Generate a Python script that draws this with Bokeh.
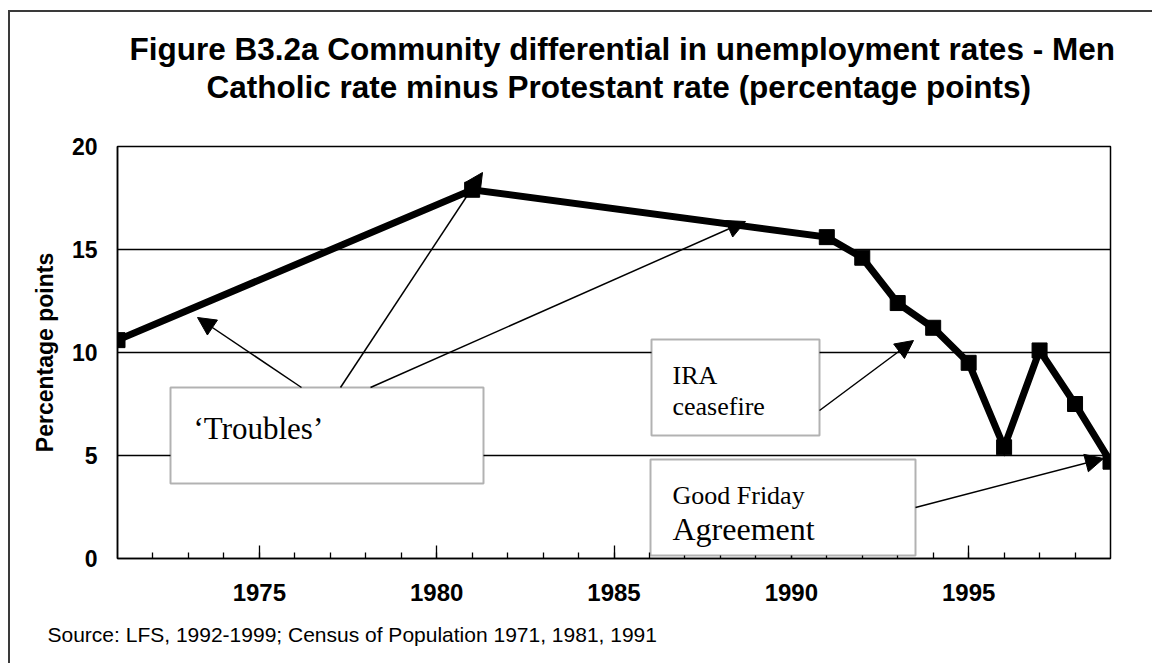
from bokeh.plotting import figure
from bokeh.models import Range1d, FixedTicker, Label, BoxAnnotation, Arrow, NormalHead, Title
from bokeh.embed import file_html
from bokeh.resources import INLINE

# ---- data ----
years = [1971, 1981, 1991, 1992, 1993, 1994, 1995, 1996, 1997, 1998, 1999]
differential = [10.6, 17.9, 15.6, 14.6, 12.4, 11.2, 9.5, 5.4, 10.1, 7.5, 4.7]
x_major_ticks = [1975, 1980, 1985, 1990, 1995]
x_minor_ticks = list(range(1972, 1999))
y_ticks = [0, 5, 10, 15, 20]
title_line1 = "Figure B3.2a Community differential in unemployment rates - Men"
title_line2 = "Catholic rate minus Protestant rate (percentage points)"
y_label = "Percentage points"
source_text = "Source: LFS, 1992-1999; Census of Population 1971, 1981, 1991"

# ---- layout (page pixels) ----
OX, OY = 10, 12           # canvas origin on page (after margin + border)
W, H = 1144, 653
FL, FR, FT, FB = 117, 1110, 146, 558  # frame edges on page
XPX = (FR - FL) / (years[-1] - years[0])
YPX = (FB - FT) / 20.0


def X(px):
    return years[0] + (px - FL) / XPX


def Y(py):
    return (FB - py) / YPX


p = figure(width=W, height=H, output_backend="svg", toolbar_location=None,
           x_range=Range1d(years[0], years[-1]), y_range=Range1d(0, 20),
           min_border_left=FL - OX, min_border_right=OX + W - FR,
           min_border_top=FT - OY, min_border_bottom=OY + H - FB)
p.styles = {"margin-left": "8px", "margin-top": "10px",
            "border-left": "2px solid #3a3a3a", "border-top": "2px solid #3a3a3a"}
p.background_fill_color = "white"
p.border_fill_color = "white"
p.outline_line_color = "black"
p.outline_line_width = 1.5

p.xgrid.visible = False
p.ygrid.ticker = FixedTicker(ticks=[5, 10, 15])
p.ygrid.grid_line_color = "black"
p.ygrid.grid_line_width = 1.3

xa = p.xaxis[0]
xa.ticker = FixedTicker(ticks=x_major_ticks, minor_ticks=x_minor_ticks)
xa.major_tick_in = 13
xa.major_tick_out = 0
xa.minor_tick_in = 6
xa.minor_tick_out = 0
xa.major_tick_line_color = "black"
xa.minor_tick_line_color = "black"
xa.major_tick_line_width = 1.3
xa.minor_tick_line_width = 1.3
xa.axis_line_color = "black"
xa.axis_line_width = 1.5
xa.major_label_text_font = "Liberation Sans"
xa.major_label_text_font_style = "bold"
xa.major_label_text_font_size = "24px"
xa.major_label_text_color = "black"
xa.major_label_standoff = 25

ya = p.yaxis[0]
ya.ticker = FixedTicker(ticks=y_ticks)
ya.major_tick_in = 0
ya.major_tick_out = 0
ya.minor_tick_in = 0
ya.minor_tick_out = 0
ya.axis_line_color = "black"
ya.axis_line_width = 1.5
ya.major_label_text_font = "Liberation Sans"
ya.major_label_text_font_style = "bold"
ya.major_label_text_font_size = "23px"
ya.major_label_text_color = "black"
ya.major_label_standoff = 20
ya.axis_label = y_label
ya.axis_label_text_font = "Liberation Sans"
ya.axis_label_text_font_style = "bold"
ya.axis_label_text_font_size = "23px"
ya.axis_label_text_color = "black"
ya.axis_label_standoff = 11

# data line and markers
p.line(years, differential, line_width=7, line_color="black", line_join="miter")
p.scatter(years, differential, marker="square", size=15, fill_color="black", line_color="black")


# annotation boxes
def box(l, r, t, b):
    p.add_layout(BoxAnnotation(left=X(l), right=X(r), top=Y(t), bottom=Y(b),
                               fill_color="white", fill_alpha=1,
                               line_color="black", line_width=2))

box(170, 483, 387, 483)   # Troubles
box(651, 819, 339, 435)   # IRA ceasefire
box(650, 915, 459, 555)   # Good Friday Agreement


def lab(px, py, txt, size, font="Liberation Serif", style="normal", align="left"):
    p.add_layout(Label(x=X(px), y=Y(py), text=txt, text_font=font,
                       text_font_size=size, text_font_style=style,
                       text_color="black", text_align=align,
                       text_baseline="alphabetic"))

lab(193, 428, "\u2018Troubles\u2019", "31px")
lab(672, 375, "IRA", "26px")
lab(672, 406, "ceasefire", "26px")
lab(672, 495, "Good Friday", "26px")
lab(672, 528, "Agreement", "32px")


# arrows
def arrow(x0, y0, x1, y1):
    p.add_layout(Arrow(x_start=X(x0), y_start=Y(y0), x_end=X(x1), y_end=Y(y1),
                       line_color="black", line_width=1.5,
                       end=NormalHead(size=18, fill_color="black", line_color="black")))

arrow(301, 387, 197, 317)
arrow(340, 387, 482, 172)
arrow(370, 387, 745, 221)
arrow(819, 410, 913, 340)
arrow(915, 507, 1103, 458)


# titles (panels stack outward from the frame) and source
def side_text(txt, side, offset, size, style, standoff=0):
    p.add_layout(Title(text=txt, align="left", offset=offset, standoff=standoff,
                       vertical_align="bottom",
                       text_font="Liberation Sans", text_font_style=style,
                       text_font_size=size, text_color="black"), side)

side_text(title_line2, "above", 89, "31.5px", "bold", standoff=84)
side_text(title_line1, "above", 12, "31.5px", "bold", standoff=-84)
side_text(source_text, "below", -70, "21px", "normal", standoff=35)

open("out.html", "w").write(file_html(p, INLINE))
